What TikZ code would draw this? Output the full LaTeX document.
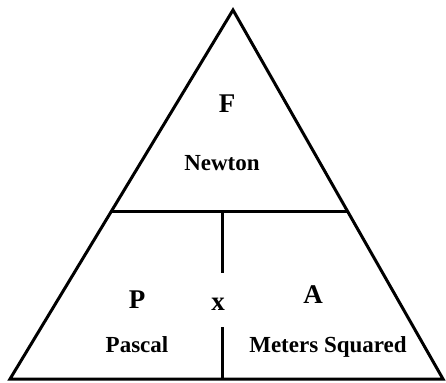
\documentclass[tikz,border=0pt]{standalone}
\usepackage{fontspec}
\setmainfont{Liberation Serif}
\usetikzlibrary{calc}

\begin{document}
\begin{tikzpicture}[x=1pt, y=-1pt,
    letter/.style={font=\fontsize{27}{27}\selectfont\bfseries, inner sep=0pt, anchor=base},
    unitname/.style={font=\fontsize{23}{23}\selectfont\bfseries, inner sep=0pt, anchor=base},
    edge/.style={line width=3pt, line join=miter},
]
\useasboundingbox (0,0) rectangle (446,382);

% outer triangle
\coordinate (top) at (233,10);
\coordinate (bl) at (10,379);
\coordinate (br) at (443,379);
\draw[edge] (top) -- (bl) -- (br) -- cycle;

% dividers
\coordinate (dl) at ($(top)!0.547!(bl)$);
\coordinate (dr) at ($(top)!0.547!(br)$);
\coordinate (vt) at (222,212);
\coordinate (vgapa) at (222,273);
\coordinate (vgapb) at (222,327);
\coordinate (vb) at (222,379);
\draw[edge] (dl) -- (dr);
\draw[edge] (vt) -- (vgapa);
\draw[edge] (vgapb) -- (vb);

% labels
\node[letter] (force) at (227,113) {F};
\node[unitname] (newton) at (222,170) {Newton};
\node[letter] (pressure) at (137,308) {P};
\node[unitname] (pascal) at (137,352) {Pascal};
\node[letter] (times) at (218,310) {x};
\node[letter] (area) at (313,303) {A};
\node[unitname] (sqm) at (328,352) {Meters Squared};
\end{tikzpicture}
\end{document}
